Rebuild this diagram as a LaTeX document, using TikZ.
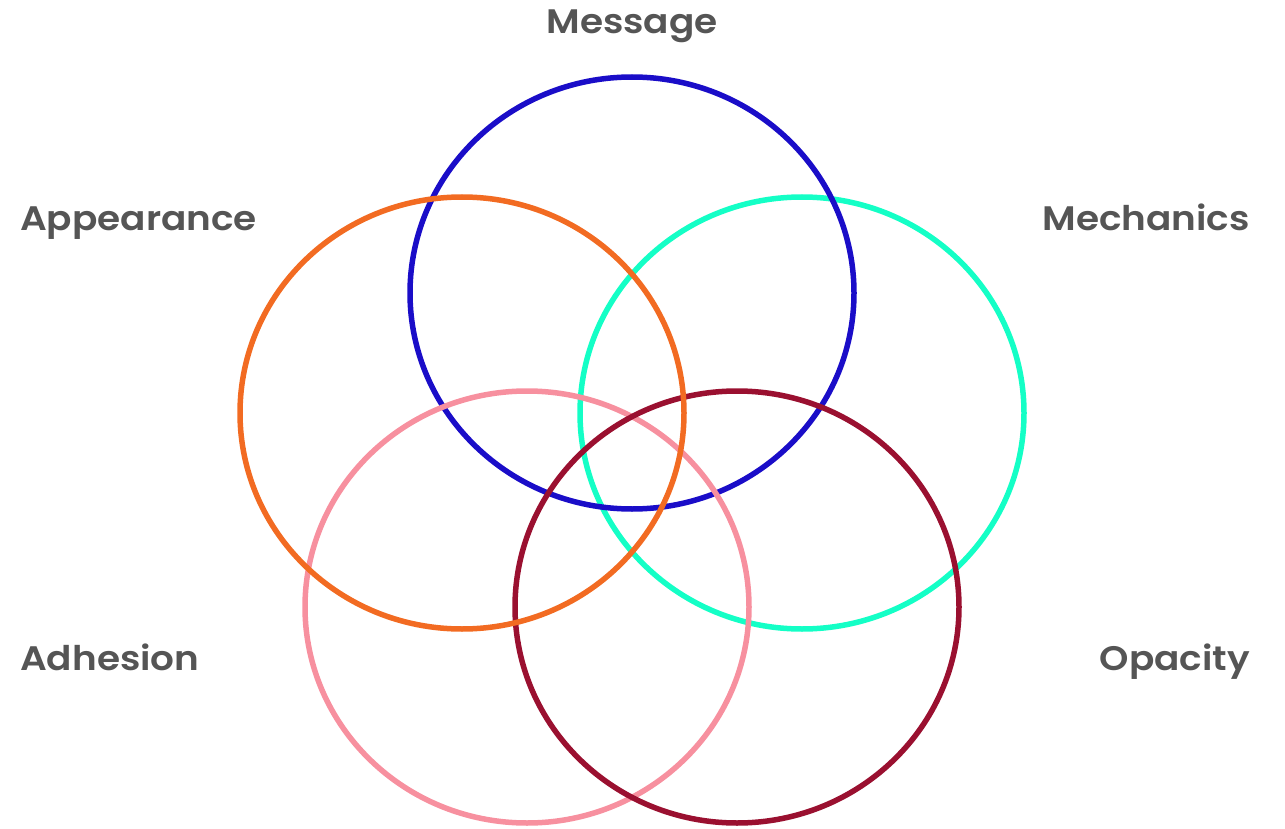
\documentclass[tikz,border=0pt]{standalone}
\usepackage{fontspec}
\setmainfont{Poppins}[BoldFont={* SemiBold}, BoldFeatures={FakeStretch=1.1}]
\definecolor{cblue}{HTML}{1A0DC8}
\definecolor{corange}{HTML}{F26B22}
\definecolor{cteal}{HTML}{14FFC6}
\definecolor{cpink}{HTML}{F7909F}
\definecolor{cdred}{HTML}{9A1030}
\definecolor{ctext}{HTML}{555555}
\begin{document}
\begin{tikzpicture}[x=1pt,y=-1pt,
  ring/.style={line width=5.5pt, x radius=222, y radius=216},
  lab/.style={text=ctext, font=\fontsize{34}{37}\selectfont\bfseries, inner sep=0pt}]
\useasboundingbox (0,0) rectangle (1285,829);
\draw[ring, cteal] (802,413) ellipse [];
\draw[ring, cblue] (632,293) ellipse [];
\draw[ring, cpink] (527,607) ellipse [];
\draw[ring, cdred] (737,607) ellipse [];
\draw[ring, corange] (462,413) ellipse [];
\node[lab, anchor=base] (msg) at (632,34) {Message};
\node[lab, anchor=base west] (app) at (20,230) {Appearance};
\node[lab, anchor=base east] (mech) at (1250,230) {Mechanics};
\node[lab, anchor=base west] (adh) at (20,670) {Adhesion};
\node[lab, anchor=base east] (opa) at (1250,670) {Opacity};
\end{tikzpicture}
\end{document}
